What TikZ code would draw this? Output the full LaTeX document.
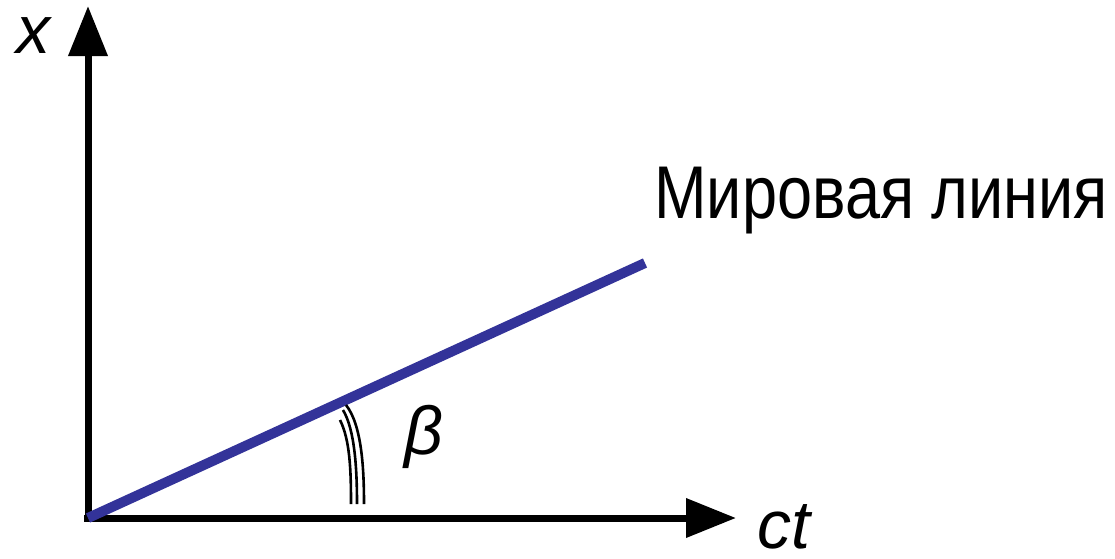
\documentclass[tikz,border=0pt]{standalone}
\usepackage{fontspec}
\setmainfont{Liberation Sans}
\usepackage{graphicx}
\usepackage{tikz}
\usetikzlibrary{arrows.meta, positioning, calc}
\definecolor{worldblue}{RGB}{51, 51, 153}

\begin{document}
\begin{tikzpicture}[
				x=0.5pt, y=-0.5pt,
				axisline/.style={line width=3.5pt, -{Triangle[length=25pt, width=19pt]}},
				worldline/.style={line width=5pt, draw=worldblue},
				anglemark/.style={line width=1.3pt},
				axislabel/.style={font=\fontsize{34}{36}\selectfont\itshape, inner sep=0pt, anchor=base west}
				]
				\useasboundingbox (0,0) rectangle (1115,558);
				% Axes
				\coordinate (O) at (88, 518);
				\coordinate (xend) at (88, 6);
				\coordinate (tend) at (736, 518);
				\draw[axisline] ($(O)+(0,3.5)$) -- (xend);
				\draw[axisline] ($(O)+(-4,0)$) -- (tend);
				\node[axislabel] (lbl_x) at (16, 53) {x};
				\node[axislabel] (lbl_ct) at (757, 548) {ct};
				
				% World line
				\coordinate (wend) at (645, 263);
				\draw[worldline] (O) -- (wend);
				\node[font=\fontsize{32.5}{34}\selectfont, inner sep=0pt, anchor=base west] (lbl_world) at (654, 218) {\scalebox{0.97}[1.15]{Мировая линия}};
				
				% Angle
				\draw[anglemark] (340, 420) .. controls (350, 440) and (351, 470) .. (351, 504);
				\draw[anglemark] (343, 410) .. controls (355, 430) and (357, 470) .. (357, 504);
				\draw[anglemark] (346, 405) .. controls (362, 425) and (364, 470) .. (364, 504);
				\node[axislabel] (lbl_beta) at (404, 454) {β};
			\end{tikzpicture}
\end{document}
